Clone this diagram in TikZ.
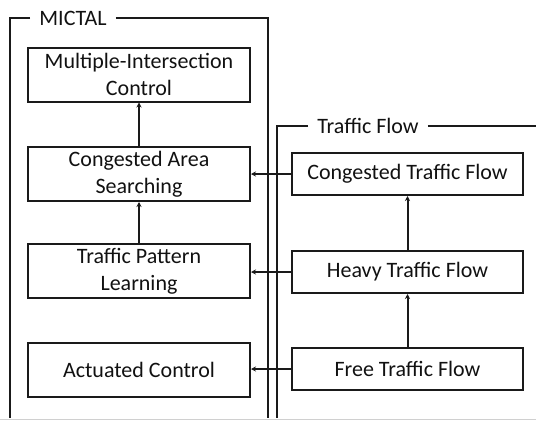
\documentclass[tikz,border=0pt]{standalone}
\usepackage{fontspec}
\setmainfont{Carlito}
\usepackage{tikz}
\usetikzlibrary{arrows.meta, positioning}
\definecolor{framegray}{HTML}{1A1A1A}
\definecolor{textgray}{HTML}{111111}
\definecolor{edgegray}{HTML}{D0D0D0}

\begin{document}
\begin{tikzpicture}[
    x=1pt, y=-1pt,
    stage/.style={rectangle, draw=framegray, line width=2pt, minimum width=222pt, minimum height=54pt, align=center, text=textgray, font=\fontsize{22}{27}\selectfont},
    flow/.style={rectangle, draw=framegray, line width=2pt, minimum width=231pt, minimum height=42pt, align=center, text=textgray, font=\fontsize{22}{27}\selectfont},
    title/.style={inner xsep=9pt, inner ysep=0pt, text=textgray, font=\fontsize{22}{27}\selectfont},
    frame/.style={line width=2pt, color=framegray},
    arrow/.style={-{Stealth[length=5pt, width=5pt]}, line width=2pt, color=framegray}
]
\useasboundingbox (0,0) rectangle (536,421);

% Frames
\node[title] (mictal) at (73,18) {MICTAL};
\node[title] (trafficflow) at (368,126) {Traffic Flow};
\draw[frame] (mictal.west |- 0,18) -- (10,18) -- (10,418);
\draw[frame] (mictal.east |- 0,18) -- (268,18) -- (268,418);
\draw[frame] (trafficflow.west |- 0,126) -- (277,126) -- (277,418);
\draw[frame] (trafficflow.east |- 0,126) -- (536,126);
\draw[edgegray, line width=1pt] (0,419) -- (536,419);

% MICTAL stages
\node[stage] (multi) at (139,74.5) {Multiple-Intersection\\Control};
\node[stage] (area) at (139,174) {Congested Area\\Searching};
\node[stage] (pattern) at (139,271) {Traffic Pattern\\Learning};
\node[stage] (actuated) at (139,370) {Actuated Control};

% Traffic flows
\node[flow] (congested) at (407.5,174) {Congested Traffic Flow};
\node[flow] (heavy) at (407.5,272) {Heavy Traffic Flow};
\node[flow] (free) at (407.5,369) {Free Traffic Flow};

% Arrows
\draw[arrow] (area) -- (multi);
\draw[arrow] (pattern) -- (area);
\draw[arrow] (heavy) -- (congested);
\draw[arrow] (free) -- (heavy);
\draw[arrow] (congested) -- (area);
\draw[arrow] (heavy.west) -- (pattern.east |- heavy.west);
\draw[arrow] (free) -- (actuated.east |- free);

\end{tikzpicture}
\end{document}
